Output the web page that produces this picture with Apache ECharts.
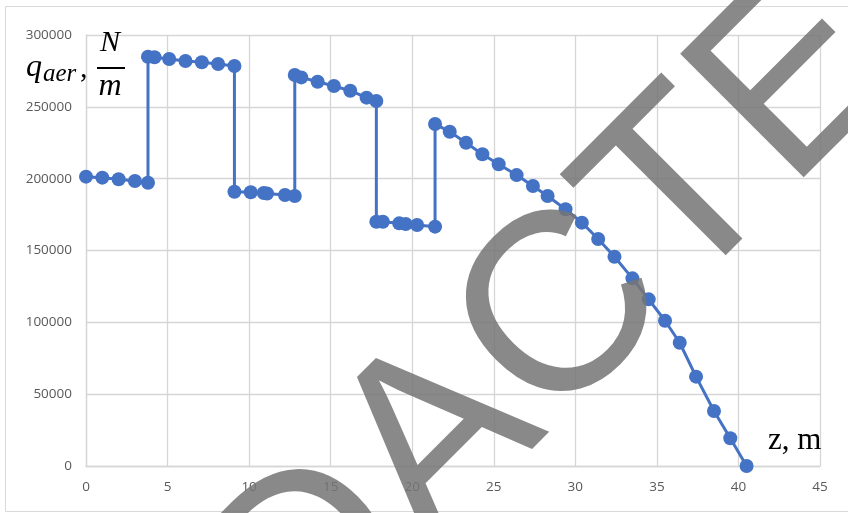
<!DOCTYPE html>
<html>
<head>
<meta charset="utf-8">
<title>q_aer(z)</title>
<script src="https://cdn.jsdelivr.net/npm/echarts@6/dist/echarts.min.js"></script>
<style>
  html, body { margin: 0; padding: 0; background: #ffffff; }
  #chart { width: 848px; height: 513px; }
</style>
</head>
<body>
<div id="chart"></div>
<script>
// Distributed aerodynamic load along the height z (m)
const zValues = [
  0, 1, 2, 3, 3.8,
  3.8, 4.2, 5.1, 6.1, 7.1, 8.1, 9.1,
  9.1, 10.1, 10.9, 11.1, 12.2, 12.8,
  12.8, 13.2, 14.2, 15.2, 16.2, 17.2, 17.8,
  17.8, 18.2, 19.2, 19.6, 20.3, 21.4,
  21.4, 22.3, 23.3, 24.3, 25.3, 26.4, 27.4, 28.3, 29.4, 30.4,
  31.4, 32.4, 33.5, 34.5, 35.5, 36.4, 37.4, 38.5, 39.5, 40.5
];
const qValues = [
  201400, 200700, 199600, 198400, 197200,
  284900, 284500, 283300, 281900, 281000, 279800, 278400,
  190900, 190500, 190000, 189700, 188600, 187900,
  272200, 270500, 267500, 264500, 261200, 256400, 254100,
  170000, 170000, 168900, 168400, 167700, 166600,
  238000, 232700, 225000, 217000, 210000, 202500, 194900, 187900, 178700, 169400,
  158000, 145700, 130600, 116000, 101100, 85800, 62200, 38300, 19300, 0
];
const xTicks = [0, 5, 10, 15, 20, 25, 30, 35, 40, 45];
const yTicks = [0, 50000, 100000, 150000, 200000, 250000, 300000];

const points = zValues.map((z, i) => [z, qValues[i]]);

const chart = echarts.init(document.getElementById('chart'), null, { renderer: 'canvas' });

const labelFont = { color: '#595959', fontFamily: 'Open Sans', fontSize: 13.5 };
const gridLine = { lineStyle: { color: '#d6d6d6', width: 1.3 } };
const serif = 'Liberation Serif';

chart.setOption({
  animation: false,
  backgroundColor: '#ffffff',
  grid: { left: 86, right: 28, top: 35, bottom: 47, containLabel: false },
  xAxis: {
    type: 'value',
    min: xTicks[0],
    max: xTicks[xTicks.length - 1],
    interval: xTicks[1] - xTicks[0],
    axisLine: { show: true, lineStyle: { color: '#d6d6d6', width: 1.3 } },
    axisTick: { show: false },
    axisLabel: Object.assign({ margin: 14 }, labelFont),
    splitLine: Object.assign({ show: true }, gridLine)
  },
  yAxis: {
    type: 'value',
    min: yTicks[0],
    max: yTicks[yTicks.length - 1],
    interval: yTicks[1] - yTicks[0],
    axisLine: { show: true, lineStyle: { color: '#d6d6d6', width: 1.3 } },
    axisTick: { show: false },
    axisLabel: Object.assign({ margin: 14, formatter: v => String(v) }, labelFont),
    splitLine: Object.assign({ show: true }, gridLine)
  },
  series: [{
    type: 'line',
    data: points,
    symbol: 'circle',
    symbolSize: 14,
    showSymbol: true,
    lineStyle: { color: '#4472c4', width: 3 },
    itemStyle: { color: '#4472c4', borderWidth: 0 },
    z: 3
  }],
  graphic: [
    // chart frame
    { type: 'rect', z: 0, silent: true,
      shape: { x: 5.5, y: 6.5, width: 900, height: 505 },
      style: { fill: 'none', stroke: '#d9d9d9', lineWidth: 1 } },
    // axis title: q_aer, N/m
    { type: 'text', z: 50, x: 26, y: 68,
      style: { text: 'q', font: 'italic 32px ' + serif, fill: '#000', align: 'left', verticalAlign: 'middle' } },
    { type: 'text', z: 50, x: 43, y: 74,
      style: { text: 'aer', font: 'italic 25px ' + serif, fill: '#000', align: 'left', verticalAlign: 'middle' } },
    { type: 'text', z: 50, x: 80, y: 69,
      style: { text: ',', font: '30px ' + serif, fill: '#000', align: 'left', verticalAlign: 'middle' } },
    { type: 'text', z: 50, x: 110, y: 43,
      style: { text: 'N', font: 'italic 30px ' + serif, fill: '#000', align: 'center', verticalAlign: 'middle' } },
    { type: 'line', z: 50, shape: { x1: 97, y1: 68, x2: 125, y2: 68 },
      style: { stroke: '#000', lineWidth: 2 } },
    { type: 'text', z: 50, x: 110, y: 87,
      style: { text: 'm', font: 'italic 32px ' + serif, fill: '#000', align: 'center', verticalAlign: 'middle' } },
    // axis title: z, m
    { type: 'text', z: 50, x: 768, y: 441,
      style: { text: 'z, m', font: '31px ' + serif, fill: '#000', align: 'left', verticalAlign: 'middle' } },
    // stamp across the plot
    { type: 'text', z: 100, silent: true, x: 495, y: 387, rotation: Math.PI / 4,
      style: { text: 'REDACTED', font: '254px "Liberation Sans"', fill: 'rgba(118,118,118,0.86)',
               align: 'center', verticalAlign: 'middle' } }
  ]
});
</script>
</body>
</html>
